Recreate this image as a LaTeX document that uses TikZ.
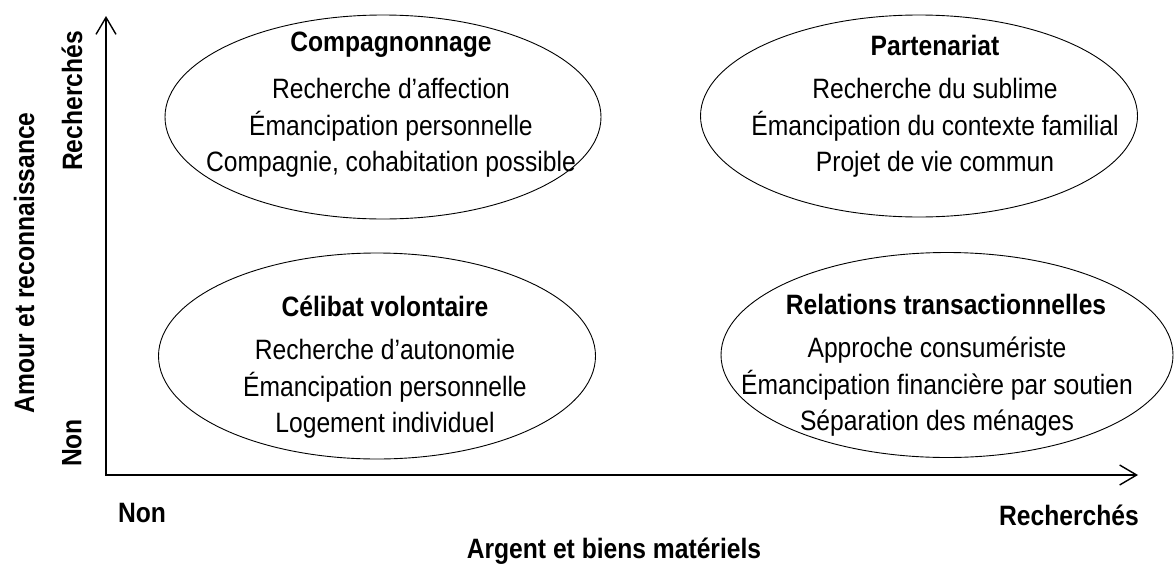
\documentclass[tikz,border=0pt]{standalone}
\usepackage{fontspec}
\setmainfont{Liberation Sans}[FakeStretch=0.88]
\usetikzlibrary{shapes.geometric, positioning, arrows.meta}

\begin{document}
\begin{tikzpicture}[
    x=1pt, y=-1pt,
    quadrant/.style={ellipse, draw, line width=0.9pt, inner sep=0pt},
    title/.style={font=\fontsize{28}{32}\selectfont\bfseries},
    items/.style={font=\fontsize{28}{36.5}\selectfont, align=center},
    axislabel/.style={font=\fontsize{28}{32}\selectfont\bfseries},
    axis/.style={line width=2pt, {Straight Barb[length=17pt, width=20pt, line width=1.4pt]}-{Straight Barb[length=17pt, width=20pt, line width=1.4pt]}}
]
    \useasboundingbox (0, 0) rectangle (1174, 565);

    % Axes
    \coordinate (origin) at (106, 475);
    \coordinate (ytop) at (106, 16);
    \coordinate (xend) at (1138, 475);
    \draw[axis] (ytop) -- (origin) -- (xend);

    % Axis labels
    \node[axislabel, rotate=90] (yhigh) at (72, 101) {Recherchés};
    \node[axislabel, rotate=90] (ylow) at (72, 443) {Non};
    \node[axislabel, rotate=90] (ytitle) at (24, 263) {Amour et reconnaissance};
    \node[axislabel] (xlow) at (142, 513) {Non};
    \node[axislabel] (xhigh) at (1069, 515) {Recherchés};
    \node[axislabel] (xtitle) at (614, 551) {Argent et biens matériels};

    % Quadrants
    \node[quadrant, minimum width=436pt, minimum height=204pt] (compagn) at (383, 117) {};
    \node[quadrant, minimum width=437pt, minimum height=202pt] (partner) at (919, 116) {};
    \node[quadrant, minimum width=437pt, minimum height=206pt] (celibat) at (377, 356) {};
    \node[quadrant, minimum width=452pt, minimum height=205pt] (transac) at (947, 355) {};

    % Top left
    \node[title] (compagnT) at (391, 45) {Compagnonnage};
    \node[items] (compagnL) at (391, 128) {Recherche d’affection\\Émancipation personnelle\\Compagnie, cohabitation possible};

    % Top right
    \node[title] (partnerT) at (935, 45) {Partenariat};
    \node[items] (partnerL) at (935, 128) {Recherche du sublime\\Émancipation du contexte familial\\Projet de vie commun};

    % Bottom left
    \node[title] (celibatT) at (385, 306) {Célibat volontaire};
    \node[items] (celibatL) at (385, 389) {Recherche d’autonomie\\Émancipation personnelle\\Logement individuel};

    % Bottom right
    \node[title] (transacT) at (946, 304) {Relations transactionnelles};
    \node[items] (transacL) at (937, 387) {Approche consumériste\\Émancipation financière par soutien\\Séparation des ménages};
\end{tikzpicture}
\end{document}
